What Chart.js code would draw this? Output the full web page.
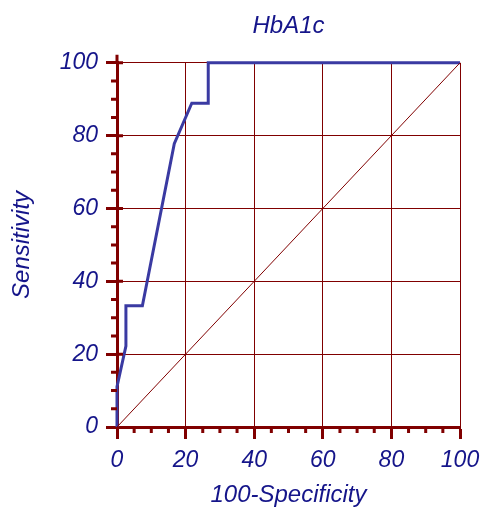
<!DOCTYPE html>
<html>
<head>
<meta charset="utf-8">
<script src="https://cdn.jsdelivr.net/npm/chart.js@4.4.1/dist/chart.umd.min.js"></script>
<style>
  html, body { margin: 0; padding: 0; background: #fff; }
  #wrap { width: 483px; height: 510px; }
</style>
</head>
<body>
<div id="wrap"><canvas id="roc"></canvas></div>
<script>
// ROC curve (100-Specificity, Sensitivity)
var rocX = [0, 0, 2.6, 2.6, 7.4, 16.7, 21.8, 26.6, 26.6, 100];
var rocY = [0, 11.1, 22.2, 33.3, 33.3, 77.8, 88.9, 88.9, 100, 100];
var diagX = [0, 100];
var diagY = [0, 100];
var majorTicks = [0, 20, 40, 60, 80, 100];

var navy = '#15158a';
var red = '#800000';

function pairs(xs, ys){
    var out = [];
    for (var i = 0; i < xs.length; i++) {
        out.push({x: xs[i], y: ys[i]});
    }
    return out;
}

// minor ticks every 5, small cross on the y axis, y axis sticking out on top
var axisExtras = {
    id: 'axisExtras',
    afterDatasetsDraw: function(chart){
        var ctx = chart.ctx;
        var xs = chart.scales.x, ys = chart.scales.y;
        var x0 = xs.getPixelForValue(0), y0 = ys.getPixelForValue(0);
        ctx.save();
        ctx.strokeStyle = red;
        ctx.lineWidth = 3;
        ctx.beginPath();
        for (var v = 5; v < 100; v += 5) {
            if (v % 20 == 0) continue;
            var px = xs.getPixelForValue(v);
            ctx.moveTo(px, y0);
            ctx.lineTo(px, y0 + 6);
            var py = ys.getPixelForValue(v);
            ctx.moveTo(x0, py);
            ctx.lineTo(x0 - 6, py);
        }
        for (var i = 1; i < majorTicks.length; i++) {
            var my = ys.getPixelForValue(majorTicks[i]);
            ctx.moveTo(x0, my);
            ctx.lineTo(x0 + 6, my);
        }
        ctx.moveTo(x0, ys.getPixelForValue(100));
        ctx.lineTo(x0, ys.getPixelForValue(100) - 8);
        ctx.stroke();
        ctx.restore();
    }
};

var tickFont = { family: 'Liberation Sans', size: 23, style: 'italic' };
var titleFont = { family: 'Liberation Sans', size: 24, style: 'italic', weight: 'normal' };

var config = {
    type: 'line',
    data: {
        datasets: [
            {
                data: pairs(diagX, diagY),
                borderColor: red,
                borderWidth: 1,
                pointRadius: 0,
                fill: false
            },
            {
                data: pairs(rocX, rocY),
                borderColor: '#3a3aa2',
                borderWidth: 3,
                pointRadius: 0,
                fill: false,
                clip: 4
            }
        ]
    },
    options: {
        responsive: true,
        maintainAspectRatio: false,
        animation: false,
        layout: { padding: { left: 0, right: 23, top: 0, bottom: 0 } },
        plugins: {
            legend: { display: false },
            tooltip: { enabled: false },
            title: {
                display: true,
                fullSize: false,
                text: 'HbA1c',
                color: navy,
                font: titleFont,
                padding: { top: 12, bottom: 22 }
            }
        },
        scales: {
            x: {
                type: 'linear',
                min: 0,
                max: 100,
                afterFit: function(scale){
                    scale.height = 83;
                    scale.paddingLeft = 0;
                    scale.paddingRight = 0;
                },
                afterBuildTicks: function(scale){
                    scale.ticks = majorTicks.map(function(v){ return {value: v}; });
                },
                border: { color: red, width: 3 },
                grid: { color: red, lineWidth: 1, drawTicks: true, tickLength: 12, tickWidth: 3, tickColor: red },
                ticks: {
                    color: navy,
                    padding: 8,
                    maxRotation: 0,
                    font: tickFont
                },
                title: {
                    display: true,
                    text: '100-Specificity',
                    color: navy,
                    padding: { top: 4, bottom: 0 },
                    font: titleFont
                }
            },
            y: {
                type: 'linear',
                min: 0,
                max: 100,
                afterFit: function(scale){
                    scale.width = 117;
                    scale.paddingTop = 0;
                    scale.paddingBottom = 0;
                },
                afterBuildTicks: function(scale){
                    scale.ticks = majorTicks.map(function(v){ return {value: v}; });
                },
                border: { color: red, width: 3 },
                grid: { color: red, lineWidth: 1, drawTicks: true, tickLength: 11, tickWidth: 3, tickColor: red },
                ticks: {
                    color: navy,
                    padding: 8,
                    font: tickFont
                },
                title: {
                    display: true,
                    text: 'Sensitivity',
                    color: navy,
                    padding: { top: 8, bottom: 0 },
                    font: titleFont
                }
            }
        }
    },
    plugins: [axisExtras]
};

new Chart(document.getElementById('roc'), config);
</script>
</body>
</html>
